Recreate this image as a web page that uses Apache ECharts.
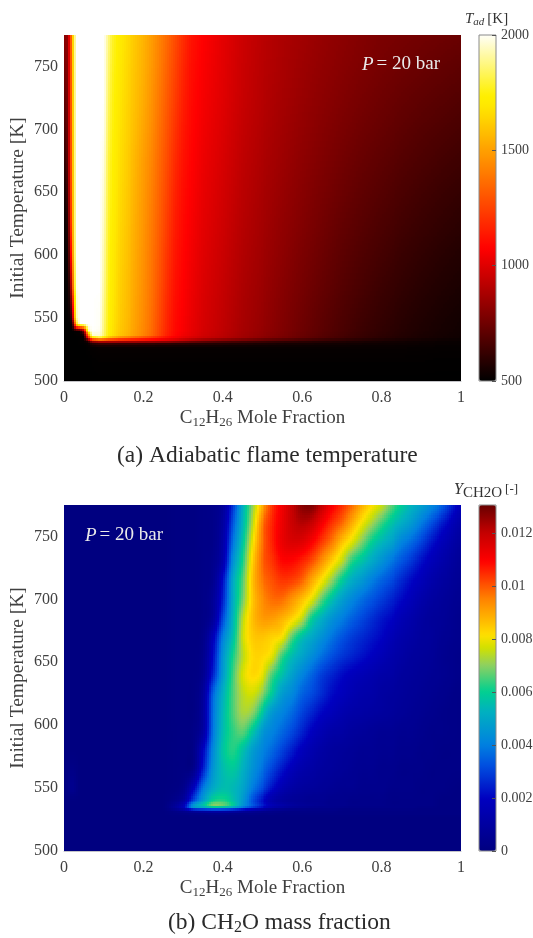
<!DOCTYPE html>
<html><head><meta charset="utf-8">
<style>html,body{margin:0;padding:0;background:#fff}#c{width:533px;height:938px}</style>
<script src="https://cdn.jsdelivr.net/npm/echarts@6/dist/echarts.min.js"></script>
</head><body><div id="c"></div>
<script>
// ---------- panel (a): adiabatic flame temperature [K] ----------
const fractionA = [0,.005,.01,.015,.02,.025,.03,.04,.05,.06,.07,.09,.1,.11,.12,.14,.16,.18,.2,.22,.24,.26,.28,.3,.32,.35,.4,.45,.5,.55,.6,.65,.7,.75,.8,.85,.9,.95,1];
const initialTempA = [775,750,725,700,675,650,625,600,575,550,545,540,536,534,532,530,527,517,500];
const flameTemp = [
[860,760,880,1120,1500,1780,2000,2000,2000,2000,2000,2000,2000,1880,1780,1700,1650,1600,1550,1490,1420,1350,1270,1190,1120,1070,1010,955,915,885,860,835,812,792,775,765,755,745,735],
[820,720,860,1110,1490,1770,2000,2000,2000,2000,2000,2000,2000,1860,1770,1690,1640,1590,1540,1480,1410,1330,1250,1170,1105,1060,1005,950,910,880,850,825,802,782,762,748,735,722,710],
[760,680,830,1100,1480,1760,2000,2000,2000,2000,2000,2000,2000,1840,1760,1680,1630,1580,1530,1465,1390,1310,1230,1150,1095,1050,1000,945,905,870,840,812,788,765,745,728,712,698,685],
[700,640,800,1090,1470,1750,2000,2000,2000,2000,2000,2000,1990,1820,1750,1670,1620,1570,1510,1450,1370,1290,1205,1130,1085,1040,990,935,895,860,828,798,772,748,728,708,690,675,660],
[640,590,770,1080,1460,1740,2000,2000,2000,2000,2000,2000,1970,1800,1740,1660,1610,1550,1490,1430,1350,1270,1180,1115,1075,1030,980,925,885,850,815,785,755,730,708,688,670,652,638],
[570,540,700,1050,1440,1730,2000,2000,2000,2000,2000,2000,1950,1790,1730,1650,1600,1540,1480,1415,1335,1250,1160,1100,1065,1020,970,915,875,838,802,770,740,712,690,668,648,630,615],
[530,520,600,1000,1400,1720,2000,2000,2000,2000,2000,2000,1930,1780,1720,1640,1590,1530,1470,1400,1320,1230,1140,1090,1055,1010,960,905,865,825,790,755,722,695,670,648,628,610,595],
[510,510,540,850,1300,1700,1990,2000,2000,2000,2000,2000,1910,1770,1710,1630,1580,1520,1460,1390,1305,1210,1125,1080,1045,1000,950,895,855,815,775,740,705,677,652,628,608,590,575],
[505,505,515,640,1100,1600,1970,2000,2000,2000,2000,2000,1890,1760,1700,1620,1570,1510,1450,1380,1290,1190,1110,1070,1035,990,940,885,845,802,762,725,690,660,632,610,590,572,558],
[500,500,505,520,620,1300,1900,2000,2000,2000,2000,1990,1860,1750,1690,1610,1560,1500,1440,1370,1270,1170,1095,1060,1025,980,930,875,835,790,748,708,672,640,615,592,572,555,542],
[500,500,500,505,520,900,1700,2000,2000,2000,2000,1990,1855,1745,1685,1605,1555,1495,1435,1365,1265,1165,1092,1058,1022,978,928,872,832,788,745,705,668,636,610,588,568,552,540],
[500,500,500,500,500,505,510,520,800,1900,2000,1980,1850,1740,1680,1600,1550,1490,1430,1360,1260,1160,1090,1055,1020,975,925,870,828,785,742,702,665,632,606,585,565,550,538],
[500,500,500,500,500,500,505,505,510,1300,1950,1950,1840,1730,1670,1590,1540,1480,1420,1350,1250,1150,1080,1040,1010,965,915,860,818,775,732,692,655,622,598,578,558,545,534],
[500,500,500,500,500,500,500,505,505,1000,1500,1700,1600,1500,1450,1350,1300,1250,1200,1150,1100,1060,1030,1000,970,940,900,850,800,760,720,680,645,615,590,570,555,542,532],
[500,500,500,500,500,500,500,505,505,600,1000,1100,1100,1090,1090,1070,1060,1050,1040,1030,1010,990,950,900,860,800,740,700,670,640,620,600,580,565,550,540,530,520,515],
[500,500,500,500,500,500,500,505,505,510,600,650,650,650,650,640,640,640,630,630,620,620,610,610,600,600,590,580,570,560,555,550,545,540,535,530,525,520,515],
[500,500,500,500,500,500,500,500,500,505,510,515,515,515,515,515,515,515,515,515,515,515,515,515,515,515,515,515,515,515,515,515,515,515,515,515,512,510,510],
[500,500,500,500,500,500,500,500,500,500,502,505,505,505,505,505,505,505,505,505,505,505,505,505,505,505,505,505,505,505,505,505,505,505,505,505,505,503,503],
[500,500,500,500,500,500,500,500,500,500,500,500,500,500,500,500,500,500,500,500,500,500,500,500,500,500,500,500,500,500,500,500,500,500,500,500,500,500,500]
];
const hotStops = [[0,'#000000'],[.38,'#ff0000'],[.79,'#ffe800'],[.82,'#fff000'],[1,'#ffffff']];
const tempTicksInterval = 500;

// ---------- panel (b): CH2O mass fraction, in units of 1e-4 ----------
const fractionB = [0,.02,.04,.1,.25,.3,.325,.35,.375,.4,.425,.45,.475,.5,.525,.55,.575,.6,.625,.65,.675,.7,.725,.75,.775,.8,.825,.85,.875,.9,.925,.95,1];
const initialTempB = [775,760,745,730,715,700,685,670,655,640,625,610,595,580,565,550,540,536,534,532,530,527,500];
const ch2oE4 = [
[0,0,0,0,0,1,1,2,3,8,28,52,71,89,103,111,119,126,127,119,110,104,97,88,81,75,66,59,53,48,42,35,17],
[0,0,0,0,0,1,1,2,3,10,33,54,75,96,105,112,118,121,118,110,103,97,88,79,71,63,56,51,46,39,32,24,12],
[0,0,0,0,0,1,1,2,3,12,38,58,80,97,105,112,115,114,109,102,95,85,77,68,59,53,48,41,36,30,23,17,9],
[0,0,0,0,0,1,1,2,4,14,44,62,84,98,103,108,108,105,100,92,83,74,62,56,50,44,38,33,28,22,17,13,7],
[0,0,0,0,0,1,1,2,5,22,50,66,86,96,100,103,102,98,89,80,70,59,51,46,40,35,31,26,21,17,13,10,6],
[0,0,0,0,0,1,1,2,7,25,51,68,85,93,97,97,92,86,78,66,56,48,42,37,33,29,25,21,17,13,10,8,5],
[0,0,0,0,0,1,1,2,8,31,53,74,86,91,91,88,83,75,60,52,45,40,35,31,27,23,20,16,13,10,8,7,4],
[0,0,0,0,0,1,1,3,17,40,56,76,84,85,83,80,66,56,50,44,38,33,29,26,23,20,16,13,11,9,8,6,4],
[0,0,0,0,0,1,1,4,21,45,61,74,82,82,78,64,55,49,43,37,32,28,25,22,19,16,13,11,9,8,7,5,3],
[0,0,0,0,0,1,1,5,25,47,64,77,82,78,65,56,48,41,35,29,25,21,18,16,14,12,11,9,8,7,6,5,3],
[0,0,0,0,0,1,1,8,35,52,65,74,76,69,58,47,42,35,31,26,21,18,15,13,12,10,9,8,7,6,5,4,2],
[0,0,0,0,0,1,1,9,37,54,65,72,69,57,46,41,36,30,25,20,17,14,12,11,10,9,8,7,6,5,4,3,2],
[0,0,0,0,0,1,2,10,38,55,63,66,57,46,41,36,31,25,19,15,12,11,9,8,7,6,6,5,5,4,3,3,2],
[0,0,0,0,0,1,2,19,42,57,62,56,47,41,36,30,24,18,14,11,9,8,7,6,6,5,5,4,4,3,3,2,2],
[0,2,0,0,0,1,3,24,45,55,58,52,44,37,30,23,17,13,11,9,8,7,6,5,5,4,4,3,3,3,2,2,2],
[0,4,0,0,0,3,17,38,50,55,54,49,39,31,22,15,11,9,8,7,6,5,5,4,4,4,3,3,3,2,2,2,1],
[0,0,0,0,0,8,30,47,60,62,56,46,32,22,13,9,7,6,5,5,4,4,3,3,3,3,2,2,2,2,2,1,1],
[0,0,0,0,0,15,45,56,68,66,58,44,33,24,16,12,9,7,6,5,4,4,3,3,3,3,2,2,2,2,2,1,1],
[0,0,0,0,0,15,38,42,45,44,40,32,24,17,10,7,5,4,3,3,3,2,2,2,2,2,2,2,2,1,1,1,1],
[0,0,0,0,0,5,12,16,18,18,16,12,8,6,4,3,2,2,2,2,2,1,1,1,1,1,1,1,1,1,1,1,1],
[0,0,0,0,0,2,3,4,5,5,4,3,3,2,2,1,1,1,1,1,1,1,1,1,1,1,1,1,1,1,1,1,1],
[0,0,0,0,0,0,0,0,0,0,0,0,0,0,0,0,0,0,0,0,0,0,0,0,0,0,0,0,0,0,0,0,0],
[0,0,0,0,0,0,0,0,0,0,0,0,0,0,0,0,0,0,0,0,0,0,0,0,0,0,0,0,0,0,0,0,0]
];
const jetStops = [[0,'#000080'],[.15,'#0000c0'],[.247,'#0050e0'],[.305,'#0080e0'],[.4,'#00b0c0'],[.458,'#00d090'],[.535,'#90d060'],[.583,'#d0e000'],[.62,'#ffe000'],[.727,'#ff8000'],[.833,'#ff0000'],[.919,'#c00000'],[1,'#600000']];
const ch2oMax = 130.5;

const xTickInterval = 0.2, yTickInterval = 50;
const FONT = '"Liberation Serif","Times New Roman",serif';
const TICK = '#404040';

function hex(c){return [1,3,5].map(i=>parseInt(c.substr(i,2),16));}
function buildPalette(stops,n){
  const out=[];
  for(let k=0;k<n;k++){
    const f=k/(n-1);let s=0;
    while(s<stops.length-2&&f>stops[s+1][0])s++;
    const a=stops[s],b=stops[s+1],t=(f-a[0])/(b[0]-a[0]);
    const ca=hex(a[1]),cb=hex(b[1]);
    out.push('rgb('+ca.map((v,i)=>Math.round(v+(cb[i]-v)*t)).join(',')+')');
  }
  return out;
}
const hotPalette=buildPalette(hotStops,512), jetPalette=buildPalette(jetStops,512);

function nodes(xs,ys,vals){
  const d=[];
  ys.forEach((y,j)=>xs.forEach((x,i)=>d.push([x,y,vals[j][i]])));
  return d;
}
// Catmull-Rom weights, used to paint a cell smoothly from the surrounding table values.
function crWeights(t){const t2=t*t,t3=t2*t;return [(-t3+2*t2-t)/2,(3*t3-5*t2+2)/2,(-3*t3+4*t2+t)/2,(t3-t2)/2];}
// Shaded ("interp") surface: each table cell is painted between its table values.
function surface(xs,ys,vals,vmin,vmax,pal,smooth,CELL){
  const nX=xs.length,nY=ys.length;
  const at=(j,i)=>vals[Math.max(0,Math.min(nY-1,j))][Math.max(0,Math.min(nX-1,i))];
  return function(params,api){
    const n=params.dataIndex,i=n%nX,j=Math.floor(n/nX);
    if(i===nX-1||j===nY-1)return null;
    const p0=api.coord([xs[i],ys[j]]),p1=api.coord([xs[i+1],ys[j+1]]);
    const w=p1[0]-p0[0],h=p1[1]-p0[1];
    const nx=Math.max(1,Math.round(w/CELL)),ny=Math.max(1,Math.round(h/CELL));
    const children=[];
    for(let q=0;q<ny;q++){
      const y0=Math.round(p0[1]+h*q/ny),y1=Math.round(p0[1]+h*(q+1)/ny);
      if(y1<=y0)continue;
      const v=(q+.5)/ny;
      const wy=smooth?crWeights(v):[0,1-v,v,0];
      for(let r=0;r<nx;r++){
        const x0=Math.round(p0[0]+w*r/nx),x1=Math.round(p0[0]+w*(r+1)/nx);
        if(x1<=x0)continue;
        const u=(r+.5)/nx;
        const wx=smooth?crWeights(u):[0,1-u,u,0];
        let val=0;
        for(let a=0;a<4;a++){if(!wy[a])continue;for(let b=0;b<4;b++){if(wx[b])val+=wy[a]*wx[b]*at(j-1+a,i-1+b);}}
        const idx=Math.max(0,Math.min(pal.length-1,Math.round((val-vmin)/(vmax-vmin)*(pal.length-1))));
        children.push({type:'rect',shape:{x:x0,y:y0,width:x1-x0,height:y1-y0},style:{fill:pal[idx]},silent:true});
      }
    }
    return {type:'group',children};
  };
}

const rich={
  n:{fontFamily:FONT,fontSize:19,color:TICK},
  s:{fontFamily:FONT,fontSize:13,color:TICK,padding:[8,0,0,0]}
};
const xName='{n|C}{s|12}{n|H}{s|26}{n| Mole Fraction}';
function xAxisFor(gi){return {gridIndex:gi,type:'value',min:0,max:1,interval:xTickInterval,z:5,
  name:xName,nameLocation:'middle',nameGap:27,nameMoveOverlap:false,nameTextStyle:{rich},
  axisLine:{show:true,onZero:false,lineStyle:{color:'#c4c4c8',width:1}},axisTick:{show:false},splitLine:{show:false},
  axisLabel:{fontFamily:FONT,fontSize:16,color:TICK,margin:9,formatter:v=>String(+v.toFixed(1))}};}
function yAxisFor(gi){return {gridIndex:gi,type:'value',min:500,max:775,interval:yTickInterval,z:5,
  name:'Initial Temperature [K]',nameLocation:'middle',nameGap:36,nameMoveOverlap:false,nameTextStyle:{fontFamily:FONT,fontSize:19.5,color:TICK},
  axisLine:{show:false,onZero:false},axisTick:{show:false},splitLine:{show:false},
  axisLabel:{fontFamily:FONT,fontSize:16,color:TICK,margin:6,showMaxLabel:false}};}
function hiddenX(gi){return {gridIndex:gi,type:'value',min:0,max:1,show:false};}
function barY(gi,min,max,interval,fmt){return {gridIndex:gi,type:'value',position:'right',min,max,interval,z:8,
  axisLine:{show:false,onZero:false},splitLine:{show:false},
  axisTick:{show:true,inside:true,length:4,lineStyle:{color:'#555',width:1}},
  axisLabel:{fontFamily:FONT,fontSize:14,color:TICK,margin:5,showMaxLabel:interval===500,formatter:fmt}};}

function capText(left,top,text,richStyles){return {type:'text',left,top,z:20,silent:true,style:{text,rich:richStyles,fontFamily:FONT}};}
const pRich={i:{fontFamily:FONT,fontStyle:'italic',fontSize:19,fill:'#eaeaea'},t:{fontFamily:FONT,fontSize:19,fill:'#eaeaea'}};
const capRich={t:{fontFamily:FONT,fontSize:23.5,fill:'#2a2a2a'},s:{fontFamily:FONT,fontSize:16,fill:'#2a2a2a',padding:[10,0,0,0]}};
const barRich={i:{fontFamily:FONT,fontStyle:'italic',fontSize:15,fill:'#333'},iy:{fontFamily:FONT,fontStyle:'italic',fontSize:16,fill:'#333'},
  si:{fontFamily:FONT,fontStyle:'italic',fontSize:11,fill:'#333',padding:[6,0,0,0]},t:{fontFamily:FONT,fontSize:15,fill:'#333'},
  s:{fontFamily:FONT,fontSize:15,fill:'#333',padding:[6,0,0,0]},b:{fontFamily:FONT,fontSize:13,fill:'#333'}};

const gridBase={outerBoundsMode:'none',containLabel:false};
const chart=echarts.init(document.getElementById('c'),null,{renderer:'canvas'});
chart.setOption({
  animation:false,backgroundColor:'#fff',
  grid:[
    {...gridBase,left:64,top:35,width:397,height:346},
    {...gridBase,left:64,top:505,width:397,height:346},
    {...gridBase,left:479,top:35,width:17,height:346,show:true,borderColor:'#8a8a8a',borderWidth:1,backgroundColor:'transparent',z:6},
    {...gridBase,left:479,top:505,width:17,height:346,show:true,borderColor:'#8a8a8a',borderWidth:1,backgroundColor:'transparent',z:6}
  ],
  xAxis:[xAxisFor(0),xAxisFor(1),hiddenX(2),hiddenX(3)],
  yAxis:[yAxisFor(0),yAxisFor(1),
    barY(2,500,2000,tempTicksInterval,v=>String(v)),
    barY(3,0,ch2oMax/1e4,0.002,v=>String(v))],
  visualMap:[
    {type:'continuous',seriesIndex:0,dimension:2,min:500,max:2000,left:479,top:35,itemWidth:17,itemHeight:346,padding:0,calculable:false,hoverLink:false,inRange:{color:hotPalette.filter((c,i)=>i%4===0)},textStyle:{color:'transparent'},text:null,showLabel:false},
    {type:'continuous',seriesIndex:1,dimension:2,min:0,max:ch2oMax,left:479,top:505,itemWidth:17,itemHeight:346,padding:0,calculable:false,hoverLink:false,inRange:{color:jetPalette.filter((c,i)=>i%4===0)},textStyle:{color:'transparent'},text:null,showLabel:false}
  ],
  series:[
    {type:'custom',name:'Adiabatic flame temperature',xAxisIndex:0,yAxisIndex:0,data:nodes(fractionA,initialTempA,flameTemp),encode:{x:0,y:1},clip:true,silent:true,progressive:0,
     renderItem:surface(fractionA,initialTempA,flameTemp,500,2000,hotPalette,false,2)},
    {type:'custom',name:'CH2O mass fraction',xAxisIndex:1,yAxisIndex:1,data:nodes(fractionB,initialTempB,ch2oE4),encode:{x:0,y:1},clip:true,silent:true,progressive:0,
     renderItem:surface(fractionB,initialTempB,ch2oE4,0,ch2oMax,jetPalette,true,2)}
  ],
  graphic:[
    capText(362,55,'{i|P} {t|= 20 bar}',pRich),
    capText(85,526,'{i|P} {t|= 20 bar}',pRich),
    capText(117,444,'{t|(a) Adiabatic flame temperature}',capRich),
    capText(168,911,'{t|(b) CH}{s|2}{t|O mass fraction}',capRich),
    capText(465,12,'{i|T}{si|ad} {t|[K]}',barRich),
    capText(454,482,'{iy|Y}{s|CH2O} {b|[-]}',barRich)
  ]
});
</script></body></html>
